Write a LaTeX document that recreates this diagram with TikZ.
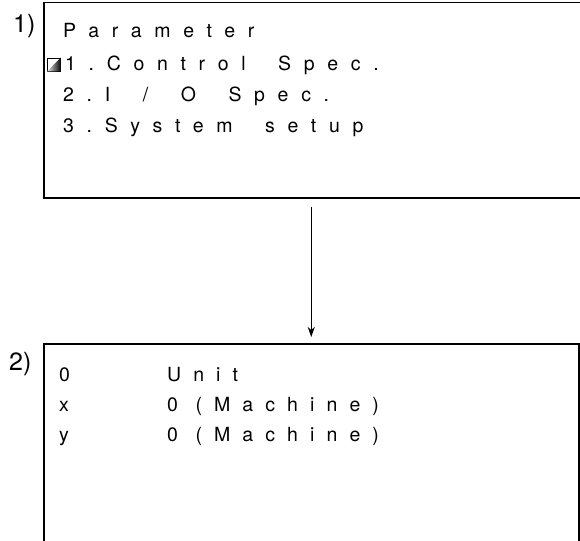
\documentclass[tikz,border=0pt]{standalone}
\usepackage{fontspec}
\setmainfont{TeX Gyre Heros}
\newfontfamily\menufont[LetterSpace=65, WordSpace=1.8]{TeX Gyre Heros}
\newfontfamily\valuefont[LetterSpace=62]{TeX Gyre Heros}
\usetikzlibrary{arrows.meta,positioning,calc,shadings}

\begin{document}
\begin{tikzpicture}[
    x=1pt, y=-1pt,
    screen/.style={draw, line width=1.5pt, inner sep=0pt, anchor=north west},
    row/.style={anchor=base west, inner sep=0pt, font=\menufont\fontsize{19.5}{22}\selectfont},
    val/.style={row, font=\valuefont\fontsize{19.5}{22}\selectfont},
    tag/.style={anchor=base west, inner sep=0pt, font=\fontsize{25}{25}\selectfont},
    arrow/.style={-{Stealth[length=10pt, width=7pt, inset=3pt]}, line width=1.2pt}
]
\useasboundingbox (0,0) rectangle (580,540);

% first screen, runs off the right edge
\node[screen, minimum width=560pt, minimum height=195pt] (scr1) at (43,2) {};
\node[tag] (tag1) at (13,33) {1)};
\node[row] (p0) at (63,38) {Parameter};
\node[draw, line width=0.8pt, minimum size=13pt, inner sep=0pt] (cursor) at (54,64.5) {};
\shade[left color=gray!20, right color=black]
  (cursor.north east) -- (cursor.south east) -- (cursor.south west) -- cycle;
\node[row] (p1) at (65,71) {1.Control Spec.};
\node[row] (p2) at (63,102) {2.I / O Spec.};
\node[row] (p3) at (63,133) {3.System setup};

% second screen, runs off the bottom edge
\node[screen, minimum width=535pt, minimum height=215pt] (scr2) at (43,343) {};
\node[tag] (tag2) at (9,370) {2)};
\node[val] (q0) at (59,381) {0};
\node[val] (q1) at (59,411) {x};
\node[val] (q2) at (59,441) {y};
\node[val] (u0) at (167,381) {Unit};
\node[val] (u1) at (167,411) {0 (Machine)};
\node[val] (u2) at (167,441) {0 (Machine)};

\draw[arrow, shorten <=8pt, shorten >=6pt] (scr2.north |- scr1.south) -- (scr2.north);
\end{tikzpicture}
\end{document}
